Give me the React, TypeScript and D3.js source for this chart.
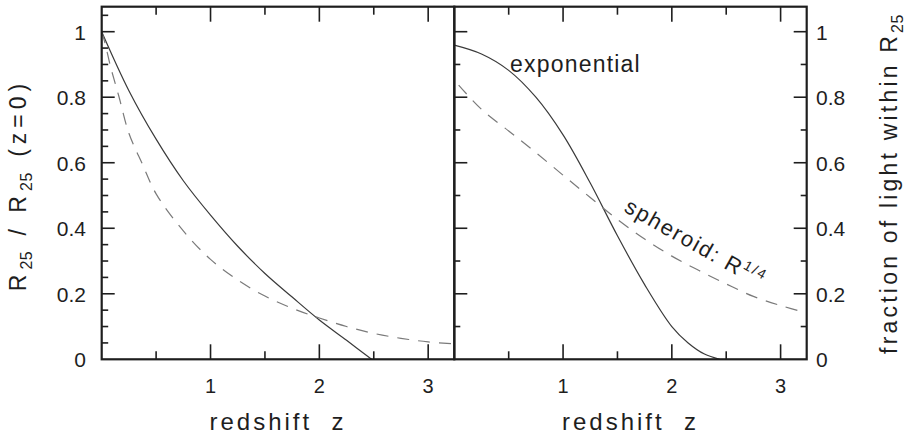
import React from "react";
import * as d3 from "d3";

// values
const zExpSize = [0, 0.25, 0.5, 0.75, 1.0, 1.25, 1.5, 1.75, 2.0, 2.25, 2.48];
const expSize = [1.0, 0.82, 0.672, 0.545, 0.44, 0.345, 0.262, 0.19, 0.12, 0.058, 0.0];

const zDevSize = [0, 0.03, 0.08, 0.16, 0.25, 0.375, 0.5, 0.75, 1.0, 1.25, 1.5, 1.75, 2.0, 2.25, 2.5, 2.75, 3.0, 3.24];
const devSize = [1.0, 0.966, 0.895, 0.8, 0.69, 0.595, 0.505, 0.392, 0.305, 0.242, 0.193, 0.156, 0.126, 0.1, 0.079, 0.064, 0.053, 0.047];

const zExpFrac = [0, 0.25, 0.5, 0.75, 1.0, 1.25, 1.5, 1.75, 2.0, 2.15, 2.3, 2.44];
const expFrac = [0.959, 0.932, 0.882, 0.8, 0.685, 0.538, 0.377, 0.228, 0.1, 0.05, 0.016, 0.0];

const zDevFrac = [0.04, 0.25, 0.5, 0.75, 1.0, 1.25, 1.5, 1.75, 2.0, 2.25, 2.5, 2.75, 3.0, 3.24];
const devFrac = [0.837, 0.763, 0.697, 0.631, 0.562, 0.494, 0.427, 0.367, 0.315, 0.271, 0.23, 0.192, 0.164, 0.142];

const xTickLabels = ["1", "2", "3"];
const yTickLabels = ["0", "0.2", "0.4", "0.6", "0.8", "1"];

const xTitle = "redshift  z";
const expLabel = "exponential";
const sphLabel = "spheroid: R";
const sphSup = "1/4";

const W = 913;
const H = 437;
const yBottom = 359.3;
const yOne = 31.7;
const yTopPx = 6.7;
const xL0 = 101.7;
const xMid = 454.3;
const xR1 = 806.7;
const zMax = 3.24;

const FONT = "'Liberation Sans', Arial, Helvetica, sans-serif";
const INK = "#1e1e1e";

function zip(a, b) {
  return a.map(function (v, i) {
    return [v, b[i]];
  });
}

function isMajorY(v) {
  return Math.abs(v / 0.2 - Math.round(v / 0.2)) < 1e-6;
}
function isInt(v) {
  return Math.abs(v - Math.round(v)) < 1e-6;
}

export default function App() {
  const y = d3.scaleLinear().domain([0, 1]).range([yBottom, yOne]);
  const xL = d3.scaleLinear().domain([0, zMax]).range([xL0, xMid]);
  const xR = d3.scaleLinear().domain([0, zMax]).range([xMid, xR1]);

  const curve = d3.curveCatmullRom.alpha(0.5);
  const lineL = d3
    .line()
    .x(function (d) { return xL(d[0]); })
    .y(function (d) { return y(d[1]); })
    .curve(curve);
  const lineR = d3
    .line()
    .x(function (d) { return xR(d[0]); })
    .y(function (d) { return y(d[1]); })
    .curve(curve);

  const xTicks = d3.range(0.5, 3.01, 0.5);
  const yTicksFine = d3.range(0.05, 1.06, 0.05);
  const yTicksTenth = d3.range(0.1, 1.01, 0.1);

  const tickProps = { stroke: INK, strokeWidth: 1.6 };

  function xAxisTicks(sc, key) {
    return xTicks.map(function (t) {
      const len = isInt(t) ? 15 : 8;
      const px = sc(t);
      return (
        <g key={key + t}>
          <line x1={px} x2={px} y1={yBottom} y2={yBottom - len} {...tickProps} />
          <line x1={px} x2={px} y1={yTopPx} y2={yTopPx + len} {...tickProps} />
        </g>
      );
    });
  }

  return (
    <svg
      width={W}
      height={H}
      style={{ position: "absolute", left: 0, top: 0, background: "#fff" }}
      fontFamily={FONT}
    >
      <rect x={0} y={0} width={W} height={H} fill="#fff" />

      <path d={lineL(zip(zExpSize, expSize))} fill="none" stroke="#3a3a3a" strokeWidth={1.2} />
      <path d={lineL(zip(zDevSize, devSize))} fill="none" stroke="#7a7a7a" strokeWidth={1.2} strokeDasharray="12 9" />
      <path d={lineR(zip(zExpFrac, expFrac))} fill="none" stroke="#3a3a3a" strokeWidth={1.2} />
      <path d={lineR(zip(zDevFrac, devFrac))} fill="none" stroke="#7a7a7a" strokeWidth={1.2} strokeDasharray="12 9" />

      {xAxisTicks(xL, "l")}
      {xAxisTicks(xR, "r")}
      {yTicksFine.map(function (t) {
        return <line key={"ly" + t} x1={xL0} x2={xL0 + (isMajorY(t) ? 13 : 6.5)} y1={y(t)} y2={y(t)} {...tickProps} />;
      })}
      {yTicksTenth.map(function (t) {
        return <line key={"my" + t} x1={xMid} x2={xMid + (isMajorY(t) ? 13 : 6)} y1={y(t)} y2={y(t)} {...tickProps} />;
      })}
      {yTicksTenth.map(function (t) {
        return <line key={"ry" + t} x1={xR1} x2={xR1 - (isMajorY(t) ? 13 : 6)} y1={y(t)} y2={y(t)} {...tickProps} />;
      })}

      <rect x={xL0} y={yTopPx} width={xMid - xL0} height={yBottom - yTopPx} fill="none" stroke={INK} strokeWidth={2.2} />
      <rect x={xMid} y={yTopPx} width={xR1 - xMid} height={yBottom - yTopPx} fill="none" stroke={INK} strokeWidth={2.2} />

      {yTickLabels.map(function (lab) {
        return (
          <text key={"lyl" + lab} x={86} y={y(+lab) + 8} textAnchor="end" fontSize={21} fill={INK}>
            {lab}
          </text>
        );
      })}
      {yTickLabels.map(function (lab) {
        return (
          <text key={"ryl" + lab} x={816} y={y(+lab) + 8} textAnchor="start" fontSize={21} fill={INK}>
            {lab}
          </text>
        );
      })}
      {xTickLabels.map(function (lab) {
        return (
          <text key={"lxl" + lab} x={xL(+lab)} y={393} textAnchor="middle" fontSize={20} fill={INK}>
            {lab}
          </text>
        );
      })}
      {xTickLabels.map(function (lab) {
        return (
          <text key={"rxl" + lab} x={xR(+lab)} y={393} textAnchor="middle" fontSize={20} fill={INK}>
            {lab}
          </text>
        );
      })}

      <text x={(xL0 + xMid) / 2} y={430} textAnchor="middle" fontSize={24} letterSpacing={3} fill={INK} style={{ whiteSpace: "pre" }}>
        {xTitle}
      </text>
      <text x={(xMid + xR1) / 2} y={430} textAnchor="middle" fontSize={24} letterSpacing={3} fill={INK} style={{ whiteSpace: "pre" }}>
        {xTitle}
      </text>
      <text transform="translate(26,185) rotate(-90)" textAnchor="middle" fontSize={23} letterSpacing={5} fill={INK} style={{ whiteSpace: "pre" }}>
        R<tspan fontSize={16} dy={6} letterSpacing={0.5}>25</tspan>
        <tspan dy={-6} dx={4}>{" / R"}</tspan>
        <tspan fontSize={16} dy={6} letterSpacing={0.5}>25</tspan>
        <tspan dy={-6} dx={4}>{" (z=0)"}</tspan>
      </text>
      <text transform="translate(897,184) rotate(-90)" textAnchor="middle" fontSize={23} letterSpacing={3.2} fill={INK} style={{ whiteSpace: "pre" }}>
        {"fraction of light within R"}
        <tspan fontSize={16} dy={6} letterSpacing={0.5}>25</tspan>
      </text>

      <text x={510} y={71.7} fontSize={23} letterSpacing={1.2} fill={INK}>
        {expLabel}
      </text>
      <text transform="translate(623,211) rotate(29.5)" fontSize={22} letterSpacing={1.8} fill={INK} style={{ whiteSpace: "pre" }}>
        {sphLabel}
        <tspan fontSize={14} dy={-9}>{sphSup}</tspan>
      </text>
    </svg>
  );
}
